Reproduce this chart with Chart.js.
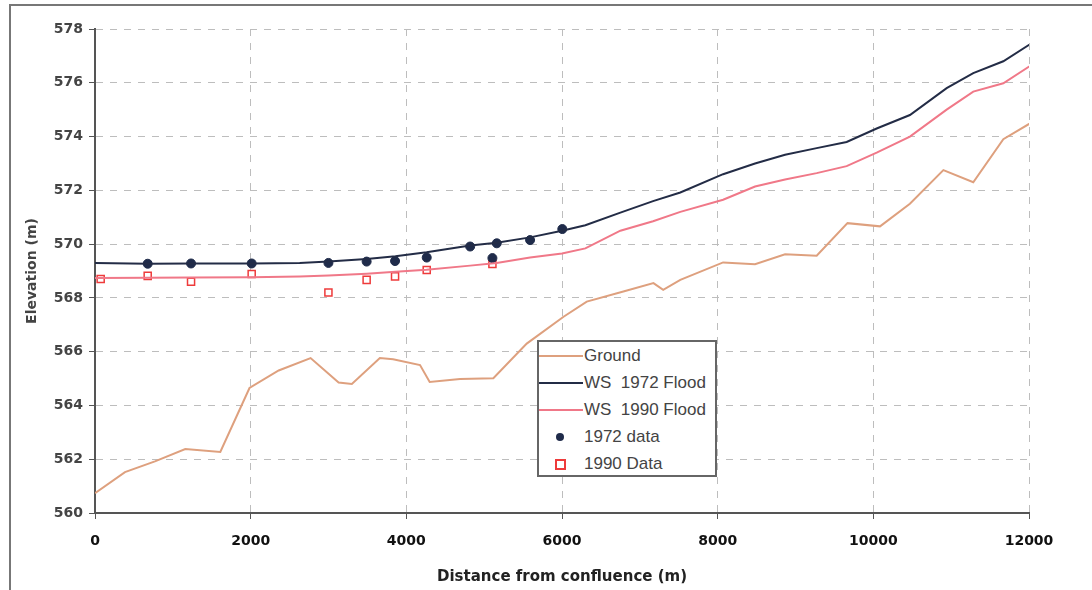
<!DOCTYPE html>
<html>
<head>
<meta charset="utf-8">
<script src="https://cdn.jsdelivr.net/npm/chart.js@4"></script>
<style>
  html, body { margin: 0; padding: 0; background: #fff; }
  #wrap { position: relative; width: 1092px; height: 590px; }
  #frame { position: absolute; left: 9px; top: 4px; right: 0; bottom: 0;
           border-top: 2px solid #777; border-left: 2px solid #777; }
  #legend { position: absolute; left: 537px; top: 340px; width: 176px; height: 133px;
            border: 2px solid #666; background: #fff;
            font-family: Arial, "Liberation Sans", sans-serif; font-size: 17px; color: #444; }
  .row { position: absolute; left: 0; height: 20px; line-height: 20px; white-space: pre; }
  .sw { position: absolute; left: 0; width: 44px; top: 9px; height: 2px; }
  .lab { position: absolute; left: 45px; top: 0; }
</style>
</head>
<body>
<div id="wrap">
  <div id="frame"></div>
  <canvas id="myChart" width="1092" height="590"></canvas>
  <div id="legend"></div>
</div>
<script>
// 河川断面データ (距離 m, 標高 m)
var groundX = [0, 385, 770, 1160, 1610, 1985, 2360, 2770, 3130, 3300, 3660, 3830, 4176, 4300, 4690, 5118, 5547, 6020, 6318, 6800, 7175, 7300, 7520, 8070, 8480, 8866, 9272, 9668, 10086, 10470, 10900, 11284, 11670, 12055];
var groundY = [560.74, 561.52, 561.92, 562.38, 562.27, 564.65, 565.3, 565.76, 564.85, 564.8, 565.76, 565.72, 565.5, 564.87, 564.98, 565.01, 566.3, 567.3, 567.86, 568.25, 568.55, 568.3, 568.67, 569.32, 569.25, 569.62, 569.57, 570.78, 570.66, 571.5, 572.75, 572.3, 573.9, 574.56];

var wsX = [0, 680, 1230, 2010, 2630, 3000, 3490, 3860, 4260, 4820, 5160, 5590, 6000, 6300, 6750, 7170, 7520, 8070, 8480, 8866, 9272, 9657, 10043, 10470, 10942, 11284, 11670, 12070];
var ws1972Y = [569.3, 569.27, 569.28, 569.28, 569.3, 569.35, 569.45, 569.55, 569.7, 569.95, 570.05, 570.25, 570.5, 570.7, 571.17, 571.6, 571.92, 572.6, 573.0, 573.32, 573.57, 573.8, 574.3, 574.8, 575.8, 576.36, 576.8, 577.54];
var ws1990Y = [568.74, 568.75, 568.76, 568.77, 568.8, 568.83, 568.9, 568.97, 569.05, 569.2, 569.3, 569.5, 569.65, 569.84, 570.5, 570.85, 571.2, 571.65, 572.14, 572.4, 572.64, 572.9, 573.4, 574.0, 575.0, 575.67, 575.98, 576.73];

var d1972X = [677, 1234, 2013, 2999, 3490, 3855, 4262, 4820, 5106, 5162, 5590, 6004];
var d1972Y = [569.27, 569.28, 569.28, 569.3, 569.35, 569.37, 569.5, 569.91, 569.48, 570.03, 570.15, 570.56];

var d1990X = [73, 677, 1234, 2013, 2999, 3490, 3855, 4262, 5106];
var d1990Y = [568.7, 568.82, 568.6, 568.89, 568.2, 568.67, 568.8, 569.04, 569.26];

var xTicks = [0, 2000, 4000, 6000, 8000, 10000, 12000];
var yTicks = [560, 562, 564, 566, 568, 570, 572, 574, 576, 578];

function pts(xs, ys) {
    return xs.map(function (x, i) { return { x: x, y: ys[i] }; });
}

var cGround = "#dea07e";
var c1972 = "#232c46";
var c1990 = "#f07888";
var tickFont = { family: "'DejaVu Sans', sans-serif", size: 14, weight: 'bold' };

var ctx = document.getElementById("myChart");
var myChart = new Chart(ctx, {
    type: 'scatter',
    data: {
        datasets: [{
            label: "Ground",
            data: pts(groundX, groundY),
            showLine: true,
            borderColor: cGround,
            borderWidth: 2,
            pointRadius: 0
        }, {
            label: "WS  1972 Flood",
            data: pts(wsX, ws1972Y),
            showLine: true,
            borderColor: c1972,
            borderWidth: 2,
            pointRadius: 0
        }, {
            label: "WS  1990 Flood",
            data: pts(wsX, ws1990Y),
            showLine: true,
            borderColor: c1990,
            borderWidth: 2,
            pointRadius: 0
        }, {
            label: "1972 data",
            data: pts(d1972X, d1972Y),
            pointStyle: 'circle',
            pointRadius: 4.5,
            backgroundColor: "#1f2b4a",
            borderColor: "#1f2b4a",
            borderWidth: 1
        }, {
            label: "1990 Data",
            data: pts(d1990X, d1990Y),
            pointStyle: 'rect',
            pointRadius: 5,
            backgroundColor: "#ffffff",
            borderColor: "#ee3b3b",
            borderWidth: 1.5
        }]
    },
    options: {
        responsive: false,
        animation: false,
        layout: { padding: { top: 29, right: 63, left: 0, bottom: 0 } },
        plugins: {
            legend: { display: false },
            tooltip: { enabled: false }
        },
        scales: {
            x: {
                type: 'linear',
                min: 0,
                max: 12000,
                afterBuildTicks: function (s) { s.ticks = xTicks.map(function (v) { return { value: v }; }); },
                afterFit: function (s) { s.height = 77; },
                grid: {
                    color: "#bdbdbd",
                    tickColor: "#555",
                    tickLength: 6,
                    tickBorderDash: [],
                    lineWidth: 1
                },
                border: { display: true, color: "#555", width: 2, dash: [7, 7] },
                ticks: {
                    color: "#111",
                    padding: 14,
                    font: tickFont,
                    callback: function (v) { return String(v); }
                },
                title: {
                    display: true,
                    text: "Distance from confluence (m)",
                    color: "#222",
                    padding: { top: 7 },
                    font: { family: "'DejaVu Sans', sans-serif", size: 15, weight: 'bold' }
                }
            },
            y: {
                type: 'linear',
                min: 560,
                max: 578,
                afterBuildTicks: function (s) { s.ticks = yTicks.map(function (v) { return { value: v }; }); },
                afterFit: function (s) { s.width = 95; },
                grid: {
                    color: "#bdbdbd",
                    tickColor: "#555",
                    tickLength: 6,
                    tickBorderDash: [],
                    lineWidth: 1
                },
                border: { display: true, color: "#555", width: 2, dash: [7, 7] },
                ticks: {
                    color: "#444",
                    padding: 6,
                    font: tickFont,
                    callback: function (v) { return String(v); }
                },
                title: {
                    display: true,
                    text: "Elevation (m)",
                    color: "#444",
                    padding: { top: 24, bottom: 0 },
                    font: { family: "'DejaVu Sans', sans-serif", size: 14, weight: 'bold' }
                }
            }
        }
    }
});

// 凡例 (HTML)
var legendItems = [
    { text: "Ground", kind: "line", color: cGround },
    { text: "WS  1972 Flood", kind: "line", color: c1972 },
    { text: "WS  1990 Flood", kind: "line", color: c1990 },
    { text: "1972 data", kind: "dot", color: "#1f2b4a" },
    { text: "1990 Data", kind: "sq", color: "#ee3b3b" }
];
var lg = document.getElementById("legend");
legendItems.forEach(function (it, i) {
    var row = document.createElement("div");
    row.className = "row";
    row.style.top = (4 + i * 27) + "px";
    var sw = document.createElement("div");
    if (it.kind === "line") {
        sw.className = "sw";
        sw.style.background = it.color;
    } else if (it.kind === "dot") {
        sw.style.cssText = "position:absolute;left:17px;top:6px;width:8px;height:8px;border-radius:50%;background:" + it.color;
    } else {
        sw.style.cssText = "position:absolute;left:16px;top:5px;width:7px;height:7px;border:2px solid " + it.color + ";background:#fff";
    }
    var lab = document.createElement("span");
    lab.className = "lab";
    lab.textContent = it.text;
    row.appendChild(sw);
    row.appendChild(lab);
    lg.appendChild(row);
});
</script>
</body>
</html>
